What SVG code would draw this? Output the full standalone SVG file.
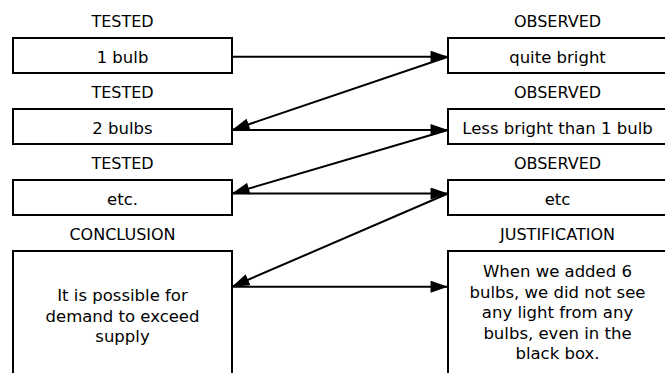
<svg xmlns="http://www.w3.org/2000/svg" width="665" height="373" viewBox="0 0 665 373">
<defs>
<style>
.box{fill:#fff;stroke:#000;stroke-width:2}
.lbl{font-family:"DejaVu Sans","Open Sans",sans-serif;font-size:16px;fill:#000;text-anchor:middle}
.txt{font-family:"DejaVu Sans","Open Sans",sans-serif;font-size:16.5px;fill:#000;text-anchor:middle}
.con{fill:none;stroke:#000;stroke-width:2;marker-end:url(#ah)}
</style>
<marker id="ah" markerUnits="userSpaceOnUse" markerWidth="18" markerHeight="12" refX="16" refY="5.5" orient="auto" viewBox="0 0 16 11">
<path d="M0,0 L16,5.5 L0,11 Z" fill="#000"/>
</marker>
</defs>
<rect width="665" height="373" fill="#fff"/>
<g id="labels">
<text class="lbl" x="122.5" y="27">TESTED</text>
<text class="lbl" x="122.5" y="98">TESTED</text>
<text class="lbl" x="122.5" y="169">TESTED</text>
<text class="lbl" x="122.5" y="240">CONCLUSION</text>
<text class="lbl" x="557.5" y="27">OBSERVED</text>
<text class="lbl" x="557.5" y="98">OBSERVED</text>
<text class="lbl" x="557.5" y="169">OBSERVED</text>
<text class="lbl" x="557.5" y="240">JUSTIFICATION</text>
</g>
<g id="tested1"><rect class="box" x="13" y="38" width="219" height="35"/><text class="txt" x="122.5" y="62.5">1 bulb</text></g>
<g id="tested2"><rect class="box" x="13" y="109" width="219" height="35"/><text class="txt" x="122.5" y="133.5">2 bulbs</text></g>
<g id="tested3"><rect class="box" x="13" y="180" width="219" height="35"/><text class="txt" x="122.5" y="204.5">etc.</text></g>
<g id="conclusion"><rect class="box" x="13" y="251" width="219" height="140"/>
<text class="txt" x="122.5" y="301">It is possible for</text>
<text class="txt" x="122.5" y="321.5">demand to exceed</text>
<text class="txt" x="122.5" y="342">supply</text></g>
<g id="observed1"><rect class="box" x="448" y="38" width="220" height="35"/><text class="txt" x="557.5" y="62.5">quite bright</text></g>
<g id="observed2"><rect class="box" x="448" y="109" width="220" height="35"/><text class="txt" x="557.5" y="133.5">Less bright than 1 bulb</text></g>
<g id="observed3"><rect class="box" x="448" y="180" width="220" height="35"/><text class="txt" x="557.5" y="204.5">etc</text></g>
<g id="justification"><rect class="box" x="448" y="251" width="220" height="140"/>
<text class="txt" x="557.5" y="277">When we added 6</text>
<text class="txt" x="557.5" y="297.5">bulbs, we did not see</text>
<text class="txt" x="557.5" y="318">any light from any</text>
<text class="txt" x="557.5" y="338.5">bulbs, even in the</text>
<text class="txt" x="557.5" y="359">black box.</text></g>
<g id="connectors">
<path class="con" d="M232,56.7 L448,56.7"/>
<path class="con" d="M448,56.7 L232,130"/>
<path class="con" d="M232,130 L448,130"/>
<path class="con" d="M448,130 L232,193.5"/>
<path class="con" d="M232,193.5 L448,193.5"/>
<path class="con" d="M448,193.5 L232,286.7"/>
<path class="con" d="M232,286.7 L448,286.7"/>
</g>
</svg>
